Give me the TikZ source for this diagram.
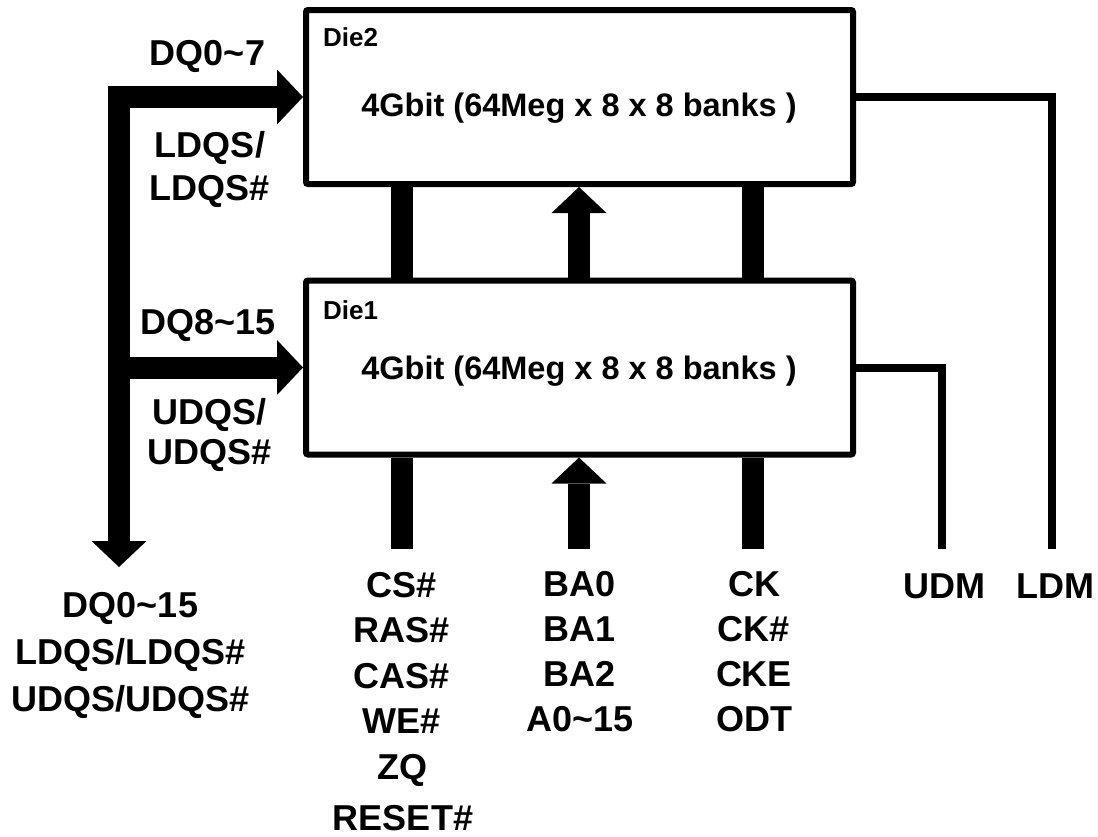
\documentclass[tikz,border=0pt]{standalone}
\usepackage{fontspec}
\setmainfont{Liberation Sans}
\usetikzlibrary{arrows.meta,calc}
\begin{document}
\begin{tikzpicture}[x=1pt,y=-1pt,
  die/.style={draw, line width=6pt, rounded corners=2pt, minimum width=547pt, minimum height=174pt, inner sep=0pt},
  bus/.style={line width=22pt},
  blk/.style={-{Triangle[width=55pt,length=26pt,line width=0pt]}},
  blkboth/.style={{Triangle[width=55pt,length=26pt,line width=0pt]}-{Triangle[width=55pt,length=26pt,line width=0pt]}},
  wire/.style={line width=8pt},
  lbl/.style={font=\fontsize{36}{42}\selectfont\bfseries, align=center, anchor=base, inner sep=0pt},
  col/.style={lbl, font=\fontsize{36}{45}\selectfont\bfseries},
  dielbl/.style={font=\fontsize{26}{30}\selectfont\bfseries, anchor=base west, inner sep=0pt},
  main/.style={font=\fontsize{32.5}{36}\selectfont\bfseries, anchor=base, inner sep=0pt}]
\useasboundingbox (0,0) rectangle (1098,836);

% dies
\node[die] (die2) at (579.5,97) {};
\node[die] (die1) at (579.5,367.5) {};

% helper coordinates
\coordinate (xa) at (402,0);
\coordinate (xb) at (579,0);
\coordinate (xc) at (753,0);
\coordinate (busx) at (119,0);
\coordinate (busend) at (119,567);
\coordinate (ea) at (402,549);
\coordinate (eb) at (579,549);
\coordinate (ec) at (753,549);
\coordinate (udm) at (942,549);
\coordinate (ldm) at (1052,549);

% bars between dies
\draw[bus] (die2.south -| xa) -- (die1.north -| xa);
\draw[bus, blk] (die1.north -| xb) -- (die2.south -| xb);
\draw[bus] (die2.south -| xc) -- (die1.north -| xc);

% bars below die1
\draw[bus] (ea) -- (die1.south -| xa);
\draw[bus, blk] (eb) -- (die1.south -| xb);
\draw[bus] (ec) -- (die1.south -| xc);

% left data bus
\draw[bus, blkboth] (die2.west) -| (busend);
\draw[bus, blk] (die1.west -| busx) -- (die1.west);

% data mask wires
\draw[wire] (die2.east) -| (ldm);
\draw[wire] (die1.east) -| (udm);

% die texts
\node[dielbl] (d2name) at (323,46.3) {Die2};
\node[dielbl] (d1name) at (323,319.3) {Die1};
\node[main] (d2text) at (579,116.5) {4Gbit (64Meg x 8 x 8 banks )};
\node[main] (d1text) at (579,379.5) {4Gbit (64Meg x 8 x 8 banks )};

% left labels (anchor base = baseline of last line)
\node[lbl] (ldq) at (207.5,65) {DQ0\textasciitilde7};
\node[lbl, font=\fontsize{36}{43}\selectfont\bfseries] (ldqs) at (210,200) {LDQS/\\LDQS\#};
\node[lbl] (udq) at (208,334) {DQ8\textasciitilde15};
\node[lbl, font=\fontsize{36}{40}\selectfont\bfseries] (udqs) at (210,464) {UDQS/\\UDQS\#};
\node[lbl, font=\fontsize{36}{47}\selectfont\bfseries] (alldq) at (130.5,711) {DQ0\textasciitilde15\\LDQS/LDQS\#\\UDQS/UDQS\#};

% bottom labels
\node[col, font=\fontsize{36}{45.5}\selectfont\bfseries] (ctrl) at (402,779) {CS\#\\RAS\#\\CAS\#\\WE\#\\ZQ};
\node[col] (reset) at (403,830) {RESET\#};
\node[col, font=\fontsize{36}{44.7}\selectfont\bfseries] (addr) at (580,731) {BA0\\BA1\\BA2\\A0\textasciitilde15};
\node[col, font=\fontsize{36}{44.7}\selectfont\bfseries] (clk) at (754,731) {CK\\CK\#\\CKE\\ODT};
\node[col] (udmlbl) at (944,598) {UDM};
\node[col] (ldmlbl) at (1055,598) {LDM};
\end{tikzpicture}
\end{document}
